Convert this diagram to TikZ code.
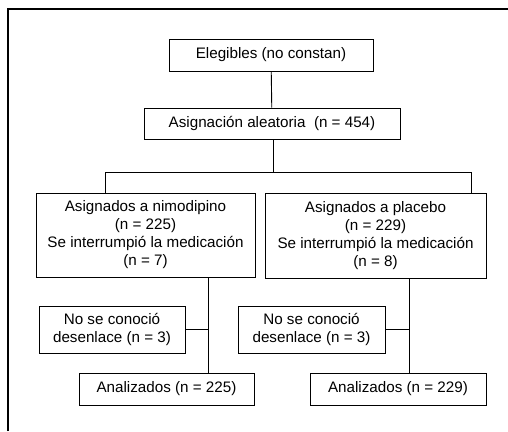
\documentclass[tikz,border=0pt]{standalone}
\usepackage{fontspec}
\setmainfont{Liberation Sans}

\tikzset{
    box/.style={draw, line width=0.9pt, inner sep=0pt, align=center,
        font=\fontsize{15.2}{18}\selectfont},
}

\begin{document}
\begin{tikzpicture}[x=1pt, y=-1pt]

    \useasboundingbox (0, 0) rectangle (508, 431);

    % Frame
    \draw [line width=1.6pt] (8, 431) -- (8, 9) -- (508, 9);

    % Boxes
    \node [box, minimum width=204, minimum height=32] (elig) at (271, 55) {Elegibles (no constan)};
    \node [box, minimum width=256, minimum height=31] (asig) at (272, 123.5) {Asignación aleatoria\ \ (n = 454)};
    \node [box, minimum width=219, minimum height=84] (nimo) at (145.5, 235)
        {Asignados a nimodipino\\(n = 225)\\Se interrumpió la medicación\\(n = 7)};
    \node [box, minimum width=221, minimum height=85] (plac) at (375.5, 235.5)
        {Asignados a placebo\\(n = 229)\\Se interrumpió la medicación\\(n = 8)};
    \node [box, minimum width=146, minimum height=47] (nsc1) at (112, 329.5) {No se conoció\\desenlace (n = 3)};
    \node [box, minimum width=147, minimum height=47] (nsc2) at (311.5, 329.5) {No se conoció\\desenlace (n = 3)};
    \node [box, minimum width=175, minimum height=32] (ana1) at (166.5, 389) {Analizados (n = 225)};
    \node [box, minimum width=176, minimum height=32] (ana2) at (398, 389) {Analizados (n = 229)};

    % Lines
    \coordinate (split) at (273, 172);
    \coordinate (bl) at (105, 172);
    \coordinate (br) at (471, 172);
    \coordinate (vl) at (208, 300);
    \coordinate (vr) at (409, 300);

    \draw [line width=0.9pt] (elig) -- (asig);
    \draw [line width=0.9pt] (asig.south -| split) -- (split);
    \draw [line width=0.9pt] (bl) -- (br);
    \draw [line width=0.9pt] (bl) -- (bl |- nimo.north);
    \draw [line width=0.9pt] (br) -- (br |- plac.north);

    \draw [line width=0.9pt] (vl |- nimo.south) -- (vl |- ana1.north);
    \draw [line width=0.9pt] (nsc1.east) -- (vl |- nsc1.east);
    \draw [line width=0.9pt] (vr |- plac.south) -- (vr |- ana2.north);
    \draw [line width=0.9pt] (nsc2.east) -- (vr |- nsc2.east);

\end{tikzpicture}
\end{document}
